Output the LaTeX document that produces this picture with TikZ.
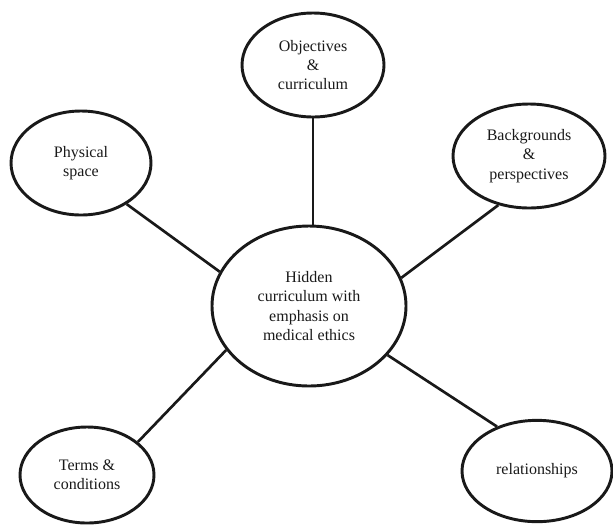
\documentclass[tikz,border=0pt]{standalone}
\usepackage{fontspec}
\setmainfont{Liberation Serif}
\usetikzlibrary{shapes.geometric}
\newcommand{\pxUnit}[0]{0.75pt}

\begin{document}
\begin{tikzpicture}[x=\pxUnit, y=-\pxUnit]
  \tikzset{topic/.style={ellipse, draw=black!90, line width=2.2pt, inner sep=0pt,
      align=center, text=black!90, font=\fontsize{12}{14.5}\selectfont}}
  \tikzset{link/.style={draw=black!90, line width=2pt}}
  \useasboundingbox (0,0) rectangle (613,526);
  \node[topic, minimum width=145.5pt, minimum height=120pt] (hidden) at (309,306)
    {Hidden\\curriculum with\\emphasis on\\medical ethics};
  \node[topic, minimum width=106.5pt, minimum height=78pt] (objectives) at (313,65)
    {Objectives\\\&\\curriculum};
  \node[topic, minimum width=105pt, minimum height=78pt] (physical) at (81,163)
    {Physical\\space};
  \node[topic, minimum width=114pt, minimum height=78pt] (backgrounds) at (529,156)
    {Backgrounds\\\&\\perspectives};
  \node[topic, minimum width=100.5pt, minimum height=72pt] (terms) at (87,475)
    {Terms \&\\conditions};
  \node[topic, minimum width=112.5pt, minimum height=76pt] (relations) at (537,471)
    {relationships};
  \draw[link] (objectives.south) -- (objectives.south |- hidden.north);
  \draw[link] (physical.-42) -- (hidden.159);
  \draw[link] (backgrounds.-122) -- (hidden.17);
  \draw[link] (terms.33) -- (hidden.208);
  \draw[link] (relations.132) -- (hidden.-32);
\end{tikzpicture}
\end{document}
